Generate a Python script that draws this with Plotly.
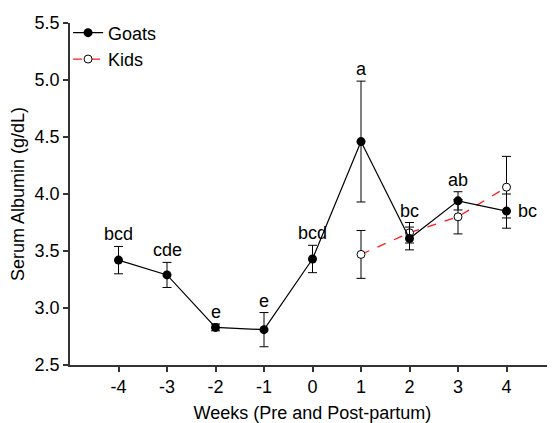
import plotly.graph_objects as go

weeks_goats = [-4, -3, -2, -1, 0, 1, 2, 3, 4]
goats_mean = [3.42, 3.29, 2.83, 2.81, 3.43, 4.46, 3.61, 3.94, 3.85]
goats_se = [0.12, 0.11, 0.03, 0.15, 0.12, 0.53, 0.10, 0.08, 0.15]
goats_letters = ["bcd", "cde", "e", "e", "bcd", "a", "bc", "ab", "bc"]

weeks_kids = [1, 2, 3, 4]
kids_mean = [3.47, 3.66, 3.80, 4.06]
kids_se = [0.21, 0.09, 0.15, 0.27]

x_ticks = [-4, -3, -2, -1, 0, 1, 2, 3, 4]
y_ticks = [2.5, 3.0, 3.5, 4.0, 4.5, 5.0, 5.5]

FONT = "Liberation Sans, Arial, sans-serif"
AX = "#333333"
FS = 18

fig = go.Figure()
fig.add_trace(go.Scatter(
    x=weeks_kids, y=kids_mean, name="Kids", mode="lines+markers",
    line=dict(color="#ff1a1a", width=1.3, dash="dash"),
    marker=dict(symbol="circle", size=8, color="white", line=dict(color="black", width=1)),
    error_y=dict(type="data", array=kids_se, color="black", thickness=1, width=4.5),
))
fig.add_trace(go.Scatter(
    x=weeks_goats, y=goats_mean, name="Goats", mode="lines+markers",
    line=dict(color="black", width=1.2),
    marker=dict(symbol="circle", size=9, color="black"),
    error_y=dict(type="data", array=goats_se, color="black", thickness=1, width=4.5),
))

kid_tops = {w: m + s for w, m, s in zip(weeks_kids, kids_mean, kids_se)}
for i, (xv, m, s, t) in enumerate(zip(weeks_goats, goats_mean, goats_se, goats_letters)):
    if i == len(weeks_goats) - 1:
        fig.add_annotation(x=xv, y=m, text=t, showarrow=False, xanchor="left",
                           yanchor="middle", xshift=9, font=dict(size=FS, color="black", family=FONT))
    else:
        top = max(m + s, kid_tops.get(xv, -1) if xv != 1 else -1)
        fig.add_annotation(x=xv, y=top, text=t, showarrow=False, xanchor="center",
                           yanchor="bottom", yshift=0, font=dict(size=FS, color="black", family=FONT))

# The page body has an 8px margin, so the figure is sized/offset to compensate.
fig.update_layout(
    width=547, height=415,
    margin=dict(l=62, r=0, t=15, b=58),
    paper_bgcolor="white", plot_bgcolor="white",
    font=dict(family=FONT, size=FS, color="black"),
    legend=dict(x=-0.004, y=1.025, xanchor="left", yanchor="top", traceorder="reversed",
                bgcolor="rgba(0,0,0,0)", font=dict(size=FS), itemwidth=30,
                tracegroupgap=0),
    showlegend=True,
)
fig.update_xaxes(range=[-5, 5], tickvals=x_ticks, ticktext=[str(v) for v in x_ticks],
                 showgrid=False, zeroline=False, showline=True, linecolor=AX, linewidth=1.5,
                 ticks="outside", ticklen=5, tickcolor=AX, tickwidth=1.5,
                 title=dict(text="Weeks (Pre and Post-partum)", standoff=12, font=dict(size=FS)),
                 tickfont=dict(size=FS))
fig.update_yaxes(range=[2.5, 5.5], tickvals=y_ticks, ticktext=[f"{v:.1f}" for v in y_ticks],
                 showgrid=False, zeroline=False, showline=True, linecolor=AX, linewidth=1.5,
                 ticks="outside", ticklen=5, tickcolor=AX, tickwidth=1.5,
                 title=dict(text="Serum Albumin (g/dL)", standoff=6, font=dict(size=FS)),
                 tickfont=dict(size=FS))

fig.write_html("out.html")
